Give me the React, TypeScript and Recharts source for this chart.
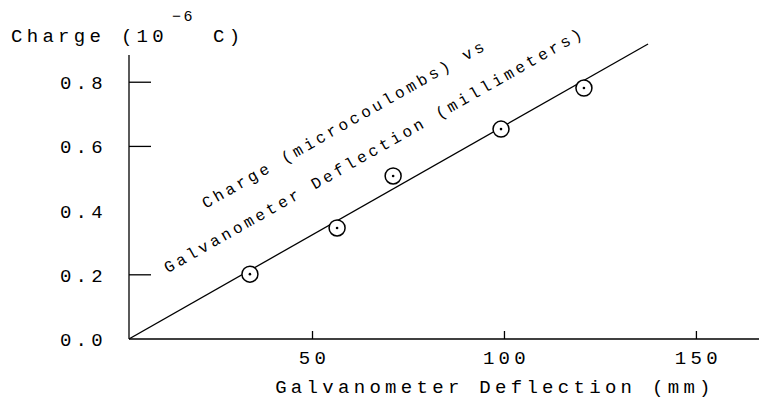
import React from "react";
import {
  ComposedChart,
  Line,
  Scatter,
  XAxis,
  YAxis,
  ReferenceLine,
} from "recharts";

// measured points (mm, microcoulombs)
const deflection = [33.7, 56.4, 71.0, 99.1, 120.7];
const charge = [0.202, 0.346, 0.508, 0.654, 0.782];

// straight fit line, end points
const fitDeflection = [2.2, 137.4];
const fitCharge = [0, 0.919];

const xTicks = [50, 100, 150];
const yTicks = [0, 0.2, 0.4, 0.6, 0.8];
const yAxisTop = 0.885;

const FONT = "'Liberation Mono', 'DejaVu Sans Mono', monospace";

const points = deflection.map((x, i) => ({ x, y: charge[i] }));
const fitLine = fitDeflection.map((x, i) => ({ x, y: fitCharge[i] }));

const XTick = (props: any) => {
  const { x, y, payload } = props;
  return (
    <g>
      <line x1={x} y1={y} x2={x} y2={y - 8} stroke="#000" strokeWidth={1.3} />
      <text
        x={x + 2}
        y={y + 25}
        textAnchor="middle"
        fontFamily={FONT}
        fontSize={19}
        letterSpacing={4.3}
        fill="#000"
      >
        {payload.value}
      </text>
    </g>
  );
};

const YTick = (props: any) => {
  const { x, y, payload } = props;
  const v = payload.value;
  return (
    <g>
      {v !== 0 && v !== 0.4 && (
        <line x1={x} y1={y} x2={x + 22} y2={y} stroke="#000" strokeWidth={1.3} />
      )}
      <text
        x={x - 22}
        y={y + 7}
        textAnchor="end"
        fontFamily={FONT}
        fontSize={19}
        letterSpacing={4.3}
        fill="#000"
      >
        {v.toFixed(1)}
      </text>
    </g>
  );
};

const Marker = (props: any) => {
  const { cx, cy } = props;
  return (
    <g>
      <circle cx={cx} cy={cy} r={8} fill="#fff" stroke="#000" strokeWidth={1.5} />
      <circle cx={cx} cy={cy} r={1.3} fill="#000" />
    </g>
  );
};

export default function App() {
  return (
    <div style={{ width: 759, height: 403, background: "#fff", position: "relative" }}>
      <style>{`body{margin:0}`}</style>
      <ComposedChart
        width={759}
        height={403}
        margin={{ top: 40.5, right: 0, bottom: 34, left: 0 }}
      >
        <XAxis
          type="number"
          dataKey="x"
          height={30}
          domain={[2.2, 166.3]}
          ticks={xTicks}
          tickSize={0}
          tickMargin={0}
          tickLine={false}
          tick={<XTick />}
          axisLine={{ stroke: "#000", strokeWidth: 1.3 }}
          allowDataOverflow
        />
        <YAxis
          type="number"
          dataKey="y"
          width={129}
          domain={[0, 0.93]}
          ticks={yTicks}
          tickSize={0}
          tickMargin={0}
          tickLine={false}
          tick={<YTick />}
          axisLine={false}
        />
        <ReferenceLine
          segment={[
            { x: 2.2, y: 0 },
            { x: 2.2, y: yAxisTop },
          ]}
          stroke="#000"
          strokeWidth={1.3}
        />
        <Line
          data={fitLine}
          dataKey="y"
          stroke="#000"
          strokeWidth={1.3}
          dot={false}
          isAnimationActive={false}
        />
        <Scatter
          data={points}
          dataKey="y"
          shape={<Marker />}
          isAnimationActive={false}
        />
        <text x={11} y={42} fontFamily={FONT} fontSize={19} letterSpacing={4.3} fill="#000">
          Charge (10
        </text>
        <text x={172} y={21} fontFamily={FONT} fontSize={15} letterSpacing={2.5} fill="#000">
          −6
        </text>
        <text x={213} y={42} fontFamily={FONT} fontSize={19} letterSpacing={4.3} fill="#000">
          C)
        </text>
        <text
          x={495}
          y={393}
          textAnchor="middle"
          fontFamily={FONT}
          fontSize={19}
          letterSpacing={4.3}
          fill="#000"
        >
          Galvanometer Deflection (mm)
        </text>
        <text
          x={345}
          y={125}
          textAnchor="middle"
          dominantBaseline="central"
          transform="rotate(-29.6 345 125)"
          fontFamily={FONT}
          fontSize={16}
          letterSpacing={3.4}
          fill="#000"
        >
          Charge (microcoulombs) vs
        </text>
        <text
          x={375}
          y={151}
          textAnchor="middle"
          dominantBaseline="central"
          transform="rotate(-29.6 375 151)"
          fontFamily={FONT}
          fontSize={16}
          letterSpacing={3.4}
          fill="#000"
        >
          Galvanometer Deflection (millimeters)
        </text>
      </ComposedChart>
    </div>
  );
}
